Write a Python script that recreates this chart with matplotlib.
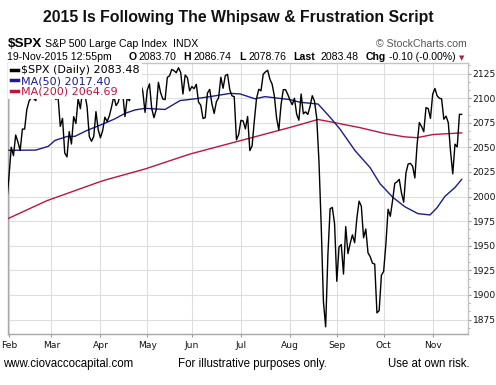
import matplotlib
matplotlib.use("Agg")
import matplotlib.pyplot as plt
from matplotlib.ticker import MultipleLocator, AutoMinorLocator
from matplotlib.lines import Line2D

# ---------------- data ----------------
# daily closes, trading-day index starts at -1 (30-Jan-2015), 0 = 2-Feb-2015
closes = [1994.99,
    2020.85, 2050.03, 2041.51, 2062.52, 2055.47, 2046.74, 2068.59, 2068.53, 2088.48, 2096.99,
    2100.34, 2099.68, 2097.45, 2110.30, 2109.66, 2115.48, 2113.86, 2110.74, 2104.50,
    2117.39, 2107.78, 2098.53, 2101.04, 2071.26, 2079.43, 2044.16, 2040.24, 2065.95, 2053.40,
    2081.19, 2074.28, 2099.50, 2089.27, 2108.10, 2104.42, 2091.50, 2061.05, 2056.15, 2061.02,
    2086.24, 2067.89,
    2059.69, 2066.96, 2080.62, 2076.33, 2081.90, 2091.18, 2102.06, 2092.43, 2095.84, 2106.63,
    2104.99, 2081.18, 2100.40, 2097.29, 2107.96, 2112.93, 2117.69, 2108.92, 2114.76, 2106.85,
    2085.51,
    2108.29, 2114.49, 2089.46, 2080.15, 2088.00, 2116.10, 2105.33, 2099.12, 2098.48, 2121.10,
    2122.73, 2129.20, 2127.83, 2125.85, 2130.82, 2126.06, 2104.20, 2123.48, 2120.79, 2107.39,
    2111.73, 2109.60, 2114.07, 2095.84, 2092.83, 2079.28, 2080.15, 2105.20, 2108.86, 2094.11,
    2084.43, 2096.29, 2100.44, 2121.24, 2109.99, 2122.85, 2124.20, 2108.58, 2102.31, 2101.49,
    2057.64, 2063.11,
    2077.42, 2076.78, 2068.76, 2081.34, 2046.68, 2051.31, 2076.62, 2099.60, 2108.95, 2107.40,
    2124.29, 2126.64, 2128.28, 2119.21, 2114.15, 2102.15, 2079.65, 2067.64, 2093.25, 2108.57,
    2108.63, 2103.84,
    2098.04, 2093.32, 2099.84, 2083.56, 2077.57, 2104.18, 2084.07, 2086.05, 2083.39, 2091.54,
    2102.44, 2096.92, 2079.61, 2035.73, 1970.89, 1893.21, 1867.61, 1940.51, 1987.66, 1988.87,
    1972.18,
    1913.85, 1948.86, 1951.13, 1921.22, 1969.41, 1942.04, 1952.29, 1961.05, 1953.03, 1978.09,
    1995.31, 1990.20, 1958.03, 1966.97, 1942.74, 1938.76, 1932.24, 1931.34, 1881.77, 1884.09,
    1920.03,
    1923.82, 1951.36, 1987.05, 1979.92, 1995.83, 2013.43, 2014.89, 2017.46, 2003.69, 1994.24,
    2023.86, 2033.11, 2033.66, 2030.77, 2018.94, 2052.51, 2075.15, 2071.18, 2065.89, 2090.35,
    2089.41, 2079.36,
    2104.05, 2109.79, 2102.31, 2099.93, 2099.20, 2078.58, 2081.72, 2075.00, 2045.97, 2023.04,
    2053.19, 2050.44, 2083.58, 2083.48]
close_idx = list(range(-1, len(closes) - 1))

ma50_idx = [0, 12, 17.6, 20.6, 26, 29.6, 34.8, 43, 47.5, 52, 56.5, 61, 70, 76.7, 83.4, 90.1,
            99.1, 103.6, 110.3, 114.8, 126, 130.5, 138.6, 144, 148.4, 155.2, 161.9, 166.4,
            172.2, 177.6, 183.4, 188.8, 191.9, 195.5, 200, 203]
ma50 = [2047.0, 2047.2, 2051.0, 2057.0, 2061.0, 2061.2, 2067.0, 2074.5, 2079.0, 2084.5, 2088.0,
        2089.6, 2088.5, 2097.5, 2099.3, 2101.5, 2104.8, 2104.3, 2099.3, 2101.5, 2098.5, 2095.8,
        2094.0, 2080.5, 2068.6, 2046.6, 2029.5, 2013.0, 1999.0, 1989.5, 1982.6, 1981.3, 1988.5,
        2000.2, 2009.2, 2017.40]

ma200_idx = [-1, 17, 38.6, 43, 61, 81.2, 103.6, 126, 138.6, 145.3, 157.4, 168.6, 177.6, 183,
             190.1, 203]
ma200 = [1977.0, 1995.8, 2013.3, 2016.7, 2028.0, 2043.2, 2056.7, 2070.2, 2078.3, 2075.4,
         2070.0, 2064.0, 2060.6, 2059.8, 2063.0, 2064.69]

month_labels = ["Feb", "Mar", "Apr", "May", "Jun", "Jul", "Aug", "Sep", "Oct", "Nov"]
month_idx = [0, 19, 41, 62, 82, 104, 126, 147, 168, 190]

legend_labels = ["$SPX (Daily) 2083.48", "MA(50) 2017.40", "MA(200) 2064.69"]

# ---------------- figure ----------------
W, H = 496, 385
fig = plt.figure(figsize=(W / 100, H / 100), dpi=100)
fig.patch.set_facecolor("white")
ax = fig.add_axes([8 / W, 1 - 334.3 / H, (467.7 - 8) / W, (334.3 - 62.7) / H])

C_PRICE = "#000000"
C_MA50 = "#1c1c8c"
C_MA200 = "#c0143c"

ax.plot(ma200_idx, ma200, color=C_MA200, lw=1.0, zorder=3)
ax.plot(ma50_idx, ma50, color=C_MA50, lw=1.0, zorder=3)
ax.plot(close_idx, closes, color=C_PRICE, lw=1.0, zorder=4)

ax.set_xlim(-0.45, 205.7)
ax.set_ylim(1860, 2136)

ax.set_xticks(month_idx)
ax.set_xticklabels(month_labels, family="DejaVu Sans", fontsize=6.6, color="#111111")
ax.yaxis.tick_right()
ax.yaxis.set_major_locator(MultipleLocator(25))
ax.yaxis.set_minor_locator(AutoMinorLocator(3))
for lab in ax.get_yticklabels():
    lab.set_family("DejaVu Sans")
ax.tick_params(axis="y", which="major", labelsize=6.6, length=2, pad=1.5,
               color="#999999", labelcolor="#111111")
ax.tick_params(axis="y", which="minor", length=1.5, color="#999999")
ax.tick_params(axis="x", length=2.5, pad=2, color="#999999")

ax.grid(True, which="major", color="#dedede", lw=0.8)
ax.set_axisbelow(True)
for s in ["left", "bottom"]:
    ax.spines[s].set_color("#a8a8a8")
    ax.spines[s].set_linewidth(1.0)
for s in ["top", "right"]:
    ax.spines[s].set_color("#c4c4c4")
    ax.spines[s].set_linewidth(1.0)

handles = [Line2D([], [], color=c, lw=2.5) for c in (C_PRICE, C_MA50, C_MA200)]
leg = ax.legend(handles, legend_labels, loc="upper left", bbox_to_anchor=(0, 1),
                borderaxespad=0, frameon=True, fancybox=False, framealpha=1,
                facecolor="white", edgecolor="none", fontsize=8,
                prop={"family": "DejaVu Sans", "size": 8},
                handlelength=0.65, handletextpad=0.25, labelspacing=0.05,
                borderpad=0.25)
for t, c in zip(leg.get_texts(), (C_PRICE, C_MA50, C_MA200)):
    t.set_color(c)
leg.set_zorder(10)

# ---------------- texts ----------------
def ftxt(x, y, s, **kw):
    fig.text(x / W, 1 - y / H, s, **kw)

SANS = "Liberation Sans"
ftxt(238, 21.7, "2015 Is Following The Whipsaw & Frustration Script", ha="center",
     va="baseline", family=SANS, weight="bold", fontsize=11.4, color="#111111")

ftxt(7.3, 47.3, "$SPX", family=SANS, weight="bold", fontsize=9.6, va="baseline")
ftxt(45, 47.3, "S&P 500 Large Cap Index", family=SANS, fontsize=7.6, va="baseline")
ftxt(172.7, 47.3, "INDX", family=SANS, fontsize=7.6, va="baseline")
ftxt(466.7, 47.3, "\u00a9 StockCharts.com", family=SANS, fontsize=7.6, va="baseline",
     ha="right", color="#555555")

y2 = 60.0
ftxt(6.7, y2, "19-Nov-2015 12:55pm", family=SANS, fontsize=7.6, va="baseline")
pieces = [(128.3, "O", True), (138.3, "2083.70", False), (183.3, "H", True),
          (193.3, "2086.74", False), (239.0, "L", True), (248.3, "2078.76", False),
          (293.3, "Last", True), (320.7, "2083.48", False), (365.7, "Chg", True),
          (389.3, "-0.10 (-0.00%)", False)]
for x, s, b in pieces:
    ftxt(x, y2, s, family=SANS, fontsize=7.6, va="baseline",
         weight="bold" if b else "normal")
ftxt(459.3, y2, "\u25bc", family="DejaVu Sans", fontsize=5, va="baseline", color="#a3224f")

yf = 366.7
ftxt(2.7, yf, "www.ciovaccocapital.com", family=SANS, fontsize=8.3, va="baseline")
ftxt(178.3, yf, "For illustrative purposes only.", family=SANS, fontsize=8.3, va="baseline")
ftxt(470, yf, "Use at own risk.", family=SANS, fontsize=8.3, va="baseline", ha="right")

fig.savefig("out.png", dpi=100, facecolor="white")
